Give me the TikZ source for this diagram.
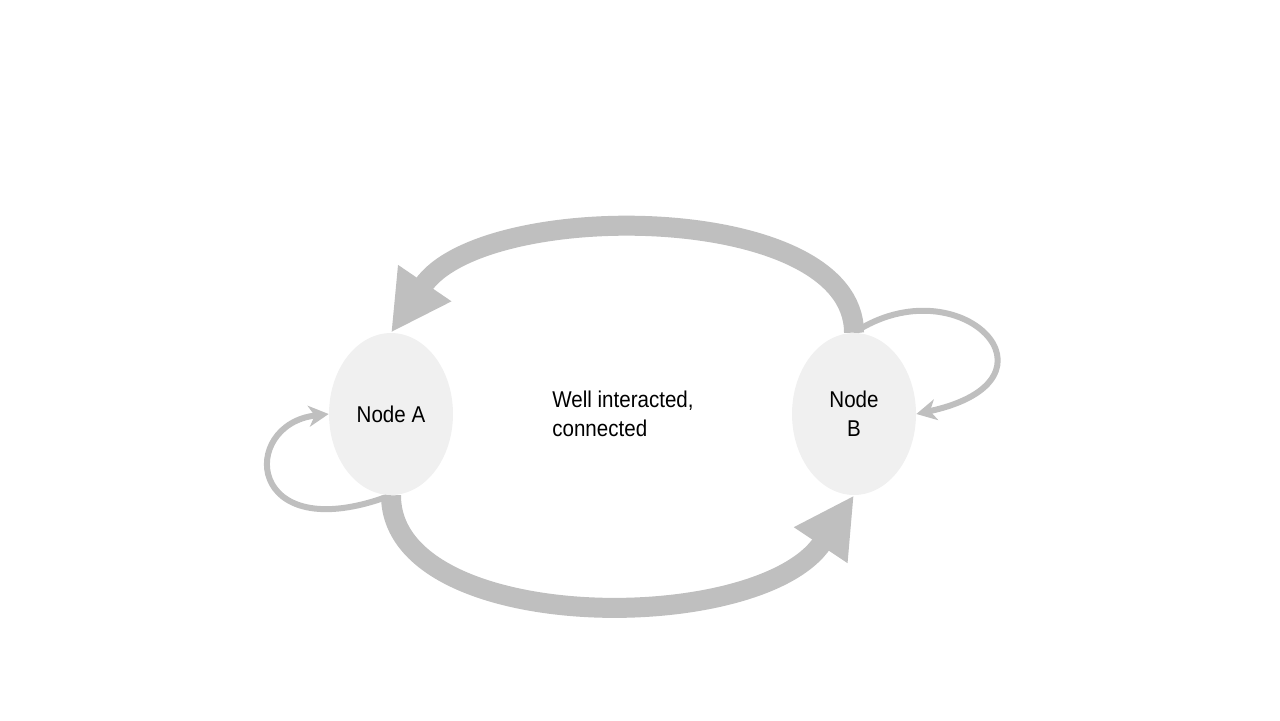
\documentclass[tikz,border=0pt]{standalone}
\usepackage{fontspec}
\setmainfont{Liberation Sans}[FakeStretch=0.9]
\usepackage{tikz}
\usetikzlibrary{shapes.geometric,arrows.meta,backgrounds}
\definecolor{flowgray}{HTML}{BFBFBF}
\definecolor{nodefill}{HTML}{F0F0F0}

\begin{document}
\begin{tikzpicture}[x=0.02cm, y=-0.02cm,
	state/.style={ellipse, fill=nodefill, minimum width=2.48cm, minimum height=3.24cm, inner sep=0pt, align=center, font=\fontsize{13}{16.4}\selectfont},
	bigflow/.style={draw=flowgray, line width=0.4cm, -{Triangle[length=1.2cm, width=1.2cm]}, flowgray},
	selfloop/.style={draw=flowgray, line width=0.12cm, -{Stealth[length=0.4cm, width=0.42cm, inset=0.12cm]}, flowgray}]
	\useasboundingbox (0,0) rectangle (1280,720);
	
	\node[state] (A) at (391,414) {Node A};
	\node[state] (B) at (854,414) {Node\\B};
	\node[anchor=west, align=left, inner sep=0pt, font=\fontsize{13}{16.4}\selectfont] (note) at (552,414) {Well interacted,\\connected};
	
	\begin{scope}[on background layer]
	\draw[bigflow] (B.north) .. controls +(0,-132) and +(92,-135) .. (A.north);
	\draw[bigflow] (A.south) .. controls +(0,140) and +(-95,142) .. (B.south);
	\draw[selfloop] (A.south) .. controls +(-146,55) and +(-90,10) .. (A.west);
	\draw[selfloop] (B.north) .. controls +(106,-70) and +(158,-34) .. (B.east);
	\end{scope}
\end{tikzpicture}
\end{document}
